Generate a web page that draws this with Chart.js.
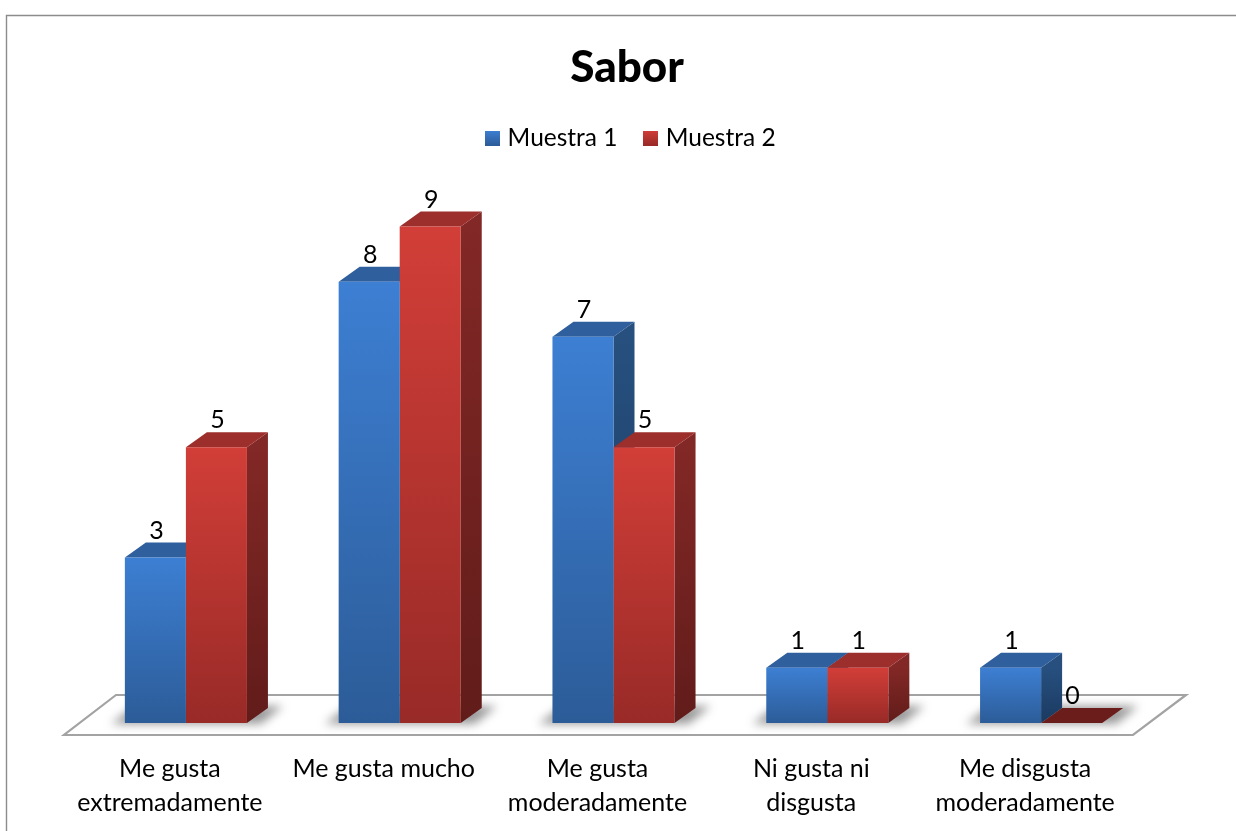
<!DOCTYPE html>
<html><head><meta charset="utf-8">
<style>html,body{margin:0;padding:0;background:#fff}#w{width:1236px;height:831px;position:relative}</style>
<script src="https://cdn.jsdelivr.net/npm/chart.js@4"></script>
</head><body><div id="w"><canvas id="c" width="1236" height="831"></canvas></div>
<script>
const categories = [["Me gusta","extremadamente"],"Me gusta mucho",["Me gusta","moderadamente"],["Ni gusta ni","disgusta"],["Me disgusta","moderadamente"]];
const muestra1 = [3,8,7,1,1];
const muestra2 = [5,9,5,1,0];
const seriesNames = ["Muestra 1","Muestra 2"];
const titleText = "Sabor";

const DX = 21, DY = 15, FONT = 'Lato';
const pal = [
 {f0:'#3d7fd3',f1:'#2c5c98',top:'#2f5f9c',s0:'#27507f',s1:'#1a3a60',zero:'#1f436e'},
 {f0:'#d23e38',f1:'#982a27',top:'#9c2e2b',s0:'#822826',s1:'#611c1a',zero:'#6a1d1b'}
];
function barGrad(c, i, y0, y1){
  const g = c.createLinearGradient(0,y0,0,y1);
  g.addColorStop(0,pal[i].f0); g.addColorStop(1,pal[i].f1); return g;
}
function front(i){
  return ctx=>{
    if(ctx.type!=='data') return pal[i].f0;
    const y=ctx.chart.scales.y;
    return barGrad(ctx.chart.ctx,i,y.getPixelForValue(ctx.raw),y.getPixelForValue(0));
  };
}
function swatch(i){
  const cv=document.createElement('canvas'); cv.width=15; cv.height=15;
  const x=cv.getContext('2d'); x.fillStyle=barGrad(x,i,0,15); x.fillRect(0,0,15,15); return cv;
}
function poly(c,pts,fill){
  c.beginPath(); pts.forEach((p,k)=>k?c.lineTo(p[0],p[1]):c.moveTo(p[0],p[1])); c.closePath();
  if(fill){c.fillStyle=fill;c.fill();}
}
const scene = {
  id:'scene',
  afterLayout(chart){
    chart.titleBlock.left+=13.5; chart.titleBlock.right+=13.5;
    chart.legend.left+=19; chart.legend.right+=19;
  },
  beforeDatasetsDraw(chart){
    const c=chart.ctx, a=chart.chartArea, base=chart.scales.y.getPixelForValue(0);
    c.save();
    // frame
    c.strokeStyle='#8c8c8c'; c.lineWidth=1.4;
    c.beginPath(); c.moveTo(6.5,831); c.lineTo(6.5,15.5); c.lineTo(1236,15.5); c.stroke();
    // floor
    const fl=a.left-15, fr=a.right-15;
    c.strokeStyle='#a3a3a3'; c.lineWidth=2.2; c.lineJoin='miter';
    poly(c,[[fl,base+12],[fr,base+12],[fr+53,base-28],[fl+52,base-28]],'#fff'); c.stroke();
    // shadows
    const m0=chart.getDatasetMeta(0).data, m1=chart.getDatasetMeta(1).data;
    c.filter='blur(5px)';
    m0.forEach((e,k)=>{
      const l=e.x-e.width/2, r=m1[k].x+m1[k].width/2;
      poly(c,[[l-14,base+1],[r+14,base+1],[r+36,base-17],[l+10,base-17]],'rgba(70,70,70,.55)');
    });
    c.filter='none';
    c.restore();
    // top and side faces
    c.save();
    [m0,m1].forEach((meta,i)=>{
      meta.forEach((e,k)=>{
        const l=e.x-e.width/2, r=e.x+e.width/2, t=e.y, b=e.base;
        const v=chart.data.datasets[i].data[k];
        if(v>0){
          const g=c.createLinearGradient(0,t,0,b);
          g.addColorStop(0,pal[i].s0); g.addColorStop(1,pal[i].s1);
          poly(c,[[r,t],[r+DX,t-DY],[r+DX,b-DY],[r,b]],g);
        }
        poly(c,[[l,t],[r,t],[r+DX,t-DY],[l+DX,t-DY]],v>0?pal[i].top:pal[i].zero);
      });
    });
    c.restore();
  },
  afterDatasetsDraw(chart){
    const c=chart.ctx;
    c.save();
    c.font='25px '+FONT; c.fillStyle='#000'; c.textAlign='center'; c.textBaseline='alphabetic';
    [0,1].forEach(i=>chart.getDatasetMeta(i).data.forEach((e,k)=>{
      c.fillText(String(chart.data.datasets[i].data[k]),e.x+1,e.y-19);
    }));
    c.restore();
  }
};
const ds=(i,data)=>({label:seriesNames[i],data,backgroundColor:front(i),borderWidth:0,categoryPercentage:0.571,barPercentage:1});
new Chart(document.getElementById('c'),{
  type:'bar',
  data:{labels:categories,datasets:[ds(0,muestra1),ds(1,muestra2)]},
  plugins:[scene],
  options:{
    responsive:false,animation:false,
    layout:{padding:{left:79,right:88,top:0,bottom:12}},
    plugins:{
      tooltip:{enabled:false},
      title:{display:true,text:titleText,color:'#000',font:{family:FONT,size:44,weight:'900',lineHeight:1.2},padding:{top:41,bottom:2}},
      legend:{display:true,position:'top',labels:{
        color:'#000',font:{family:FONT,size:24.5},boxWidth:6,boxHeight:15,padding:30,usePointStyle:true,
        generateLabels:()=>seriesNames.map((n,i)=>({text:n,fillStyle:pal[i].f0,strokeStyle:pal[i].f0,lineWidth:0,pointStyle:swatch(i),datasetIndex:i}))
      }}
    },
    scales:{
      x:{grid:{display:false,drawTicks:false},border:{display:false},afterFit(s){s.height=96;},
         ticks:{color:'#000',autoSkip:false,maxRotation:0,minRotation:0,padding:29,labelOffset:-16,font:{family:FONT,size:25,lineHeight:34/25}}},
      y:{display:false,min:0,max:10.2}
    }
  }
});
</script></body></html>
